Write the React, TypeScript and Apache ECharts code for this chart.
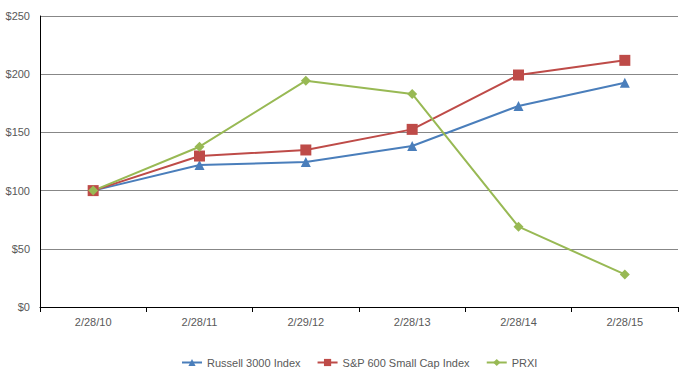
import React, { useEffect, useRef } from "react";
import * as echarts from "echarts";

const categories = ["2/28/10", "2/28/11", "2/29/12", "2/28/13", "2/28/14", "2/28/15"];
const russell = [100, 122, 124.6, 138.3, 172.7, 192.7];
const sp600 = [100, 129.7, 134.9, 152.6, 199.3, 211.9];
const prxi = [100, 137.7, 194.4, 183, 69, 28];
const seriesNames = ["Russell 3000 Index", "S&P 600 Small Cap Index", "PRXI"];

export default function App() {
  const ref = useRef<HTMLDivElement>(null);
  useEffect(() => {
    if (!ref.current) return;
    const chart = echarts.init(ref.current, null, { renderer: "svg" });
    const font = "Liberation Sans, Arial, sans-serif";
    const mk = (name: string, data: number[], color: string, symbol: string, size: number) => ({
      name,
      type: "line",
      data,
      symbol,
      symbolSize: size,
      lineStyle: { color, width: 2 },
      itemStyle: { color },
    });
    chart.setOption({
      animation: false,
      backgroundColor: "#fff",
      textStyle: { fontFamily: font },
      grid: { left: 40, right: 19, top: 16, bottom: 69 },
      xAxis: {
        type: "category",
        data: categories,
        boundaryGap: true,
        axisLine: { lineStyle: { color: "#000", width: 1 } },
        axisTick: { show: true, length: 5, lineStyle: { color: "#000" } },
        axisLabel: { color: "#595959", fontSize: 11, margin: 9, fontFamily: font },
      },
      yAxis: {
        type: "value",
        min: 0,
        max: 250,
        interval: 50,
        axisLine: { show: true, lineStyle: { color: "#000", width: 1 } },
        axisTick: { show: false },
        splitLine: { lineStyle: { color: "#878787", width: 1 } },
        axisLabel: {
          color: "#595959",
          fontSize: 11,
          margin: 10,
          fontFamily: font,
          formatter: (v: number) => "$" + v,
        },
      },
      legend: {
        bottom: 3,
        left: 176,
        itemWidth: 20,
        itemHeight: 9,
        itemGap: 16,
        textStyle: { color: "#595959", fontSize: 11, fontFamily: font },
        data: seriesNames,
      },
      series: [
        mk(seriesNames[0], russell, "#4A7EBB", "triangle", 10),
        mk(seriesNames[1], sp600, "#BE4B48", "rect", 11),
        mk(seriesNames[2], prxi, "#98B954", "diamond", 10),
      ],
    });
    return () => chart.dispose();
  }, []);
  return (
    <div
      ref={ref}
      style={{ position: "fixed", left: 0, top: 0, width: 697, height: 376 }}
    />
  );
}
